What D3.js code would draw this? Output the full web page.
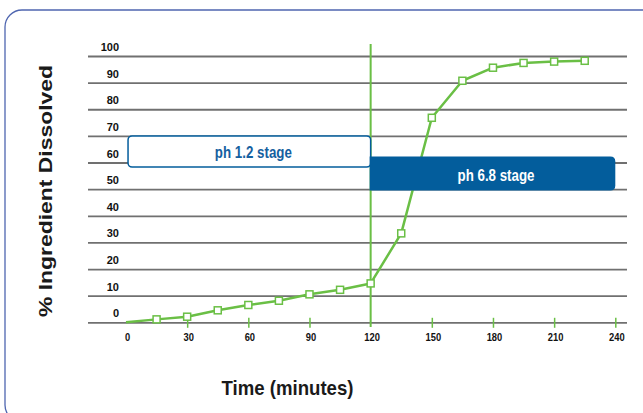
<!DOCTYPE html>
<html><head><meta charset="utf-8">
<script src="https://cdn.jsdelivr.net/npm/d3@7"></script>
<style>
html,body{margin:0;padding:0;background:#fff;}
svg{display:block;}
</style></head>
<body>
<svg id="c" width="643" height="413"></svg>
<script>
// ---- data ----
const times = [0, 15, 30, 45, 60, 75, 90, 105, 120, 135, 150, 165, 180, 195, 210, 225];
const dissolved = [0, 1.1, 2.1, 4.5, 6.5, 8.1, 10.5, 12.2, 14.6, 33.4, 76.8, 90.7, 95.6, 97.4, 97.9, 98.2];
const xTicks = [0, 30, 60, 90, 120, 150, 180, 210, 240];
const yTicks = [0, 10, 20, 30, 40, 50, 60, 70, 80, 90, 100];
const stageSplit = 120;
const stages = [
  {label: "ph 1.2 stage", from: 1, to: 120, top: 70, bottom: 58.3},
  {label: "ph 6.8 stage", from: 120, to: 240, top: 62.3, bottom: 49.5}
];
const xTitle = "Time (minutes)";
const yTitle = "% Ingredient Dissolved";

const svg = d3.select("#c");
const green = "#6abf45", blue = "#035d9c", grid = "#707070";
const sans = "'Liberation Sans',Arial,Helvetica,sans-serif";

const x = d3.scaleLinear().domain([0, 240]).range([126, 615.3]);
const y = d3.scaleLinear().domain([0, 100]).range([322.3, 56]);

// frame
svg.append("rect").attr("x", 5).attr("y", 10).attr("width", 660).attr("height", 412)
  .attr("rx", 17).attr("fill", "none").attr("stroke", "#4f66b0").attr("stroke-width", 1.3);

// gridlines via axis
const gAxisY = svg.append("g").attr("transform", "translate(88,0)")
  .call(d3.axisRight(y).tickValues(yTicks).tickSize(539).tickFormat(""));
gAxisY.select(".domain").remove();
gAxisY.selectAll(".tick line").attr("stroke", grid).attr("stroke-width", 1.8);

// y tick labels
svg.append("g").selectAll("text").data(yTicks).join("text")
  .attr("x", 119).attr("y", d => y(d) - 5)
  .attr("text-anchor", "end")
  .attr("font-family", sans).attr("font-weight", "bold").attr("font-size", 11)
  .attr("fill", "#111").text(d => d);

// x axis ticks
const gAxisX = svg.append("g").attr("transform", `translate(0,${y(0) - 4.5})`)
  .call(d3.axisBottom(x).tickValues(xTicks.filter(d => d !== 0 && d !== stageSplit)).tickSize(10).tickFormat(""));
gAxisX.select(".domain").remove();
gAxisX.selectAll(".tick line").attr("stroke", green).attr("stroke-width", 1.5);

svg.append("g").selectAll("text").data(xTicks).join("text")
  .attr("x", d => x(d) + 1.5).attr("y", 341)
  .attr("text-anchor", "middle")
  .attr("font-family", sans).attr("font-weight", "bold").attr("font-size", 11.5)
  .attr("textLength", d => String(d).length * 5.2).attr("lengthAdjust", "spacingAndGlyphs")
  .attr("fill", "#111").text(d => d);

// vertical stage line
svg.append("line").attr("x1", x(stageSplit)).attr("x2", x(stageSplit))
  .attr("y1", 44).attr("y2", 327).attr("stroke", green).attr("stroke-width", 2);

// data line
svg.append("path").datum(times.map((t, i) => [t, dissolved[i]]))
  .attr("d", d3.line().x(d => x(d[0])).y(d => y(d[1])))
  .attr("fill", "none").attr("stroke", green).attr("stroke-width", 2.5).attr("stroke-linejoin", "round");

const ms = 7;
svg.append("g").selectAll("rect").data(times.slice(1).map((t, i) => [t, dissolved[i + 1]])).join("rect")
  .attr("x", d => x(d[0]) - ms / 2).attr("y", d => y(d[1]) - ms / 2)
  .attr("width", ms).attr("height", ms)
  .attr("fill", "#fff").attr("stroke", green).attr("stroke-width", 1.5);

// stage boxes
const s1 = stages[0];
svg.append("rect").attr("x", x(s1.from)).attr("y", y(s1.top))
  .attr("width", x(s1.to) - x(s1.from)).attr("height", y(s1.bottom) - y(s1.top))
  .attr("rx", 4).attr("fill", "#fff").attr("stroke", blue).attr("stroke-width", 1.5);
svg.append("text").attr("x", (x(s1.from) + x(s1.to)) / 2 + 4).attr("y", 158)
  .attr("text-anchor", "middle").attr("font-family", sans).attr("font-weight", "bold")
  .attr("font-size", 17).attr("textLength", 77).attr("lengthAdjust", "spacingAndGlyphs")
  .attr("fill", "#1560a0").text(s1.label);

const s2 = stages[1];
const bx = x(s2.from) - 1, bw = x(s2.to) - x(s2.from) + 1, by = y(s2.top), bh = y(s2.bottom) - y(s2.top), r = 5;
svg.append("path")
  .attr("d", `M${bx},${by} H${bx + bw - r} Q${bx + bw},${by} ${bx + bw},${by + r} V${by + bh - r} Q${bx + bw},${by + bh} ${bx + bw - r},${by + bh} H${bx} Z`)
  .attr("fill", blue);
svg.append("text").attr("x", 496).attr("y", 180.5)
  .attr("text-anchor", "middle").attr("font-family", sans).attr("font-weight", "bold")
  .attr("font-size", 17).attr("textLength", 77).attr("lengthAdjust", "spacingAndGlyphs")
  .attr("fill", "#fff").text(s2.label);

// titles
svg.append("text").attr("x", 287.5).attr("y", 395).attr("text-anchor", "middle")
  .attr("font-family", sans).attr("font-weight", "bold").attr("font-size", 21)
  .attr("textLength", 132).attr("lengthAdjust", "spacingAndGlyphs")
  .attr("fill", "#1a1a1a").text(xTitle);
svg.append("text").attr("transform", "translate(52,191) rotate(-90)").attr("text-anchor", "middle")
  .attr("font-family", sans).attr("font-weight", "bold").attr("font-size", 18.5)
  .attr("textLength", 252).attr("lengthAdjust", "spacingAndGlyphs")
  .attr("fill", "#1a1a1a").text(yTitle);
</script>
</body></html>
